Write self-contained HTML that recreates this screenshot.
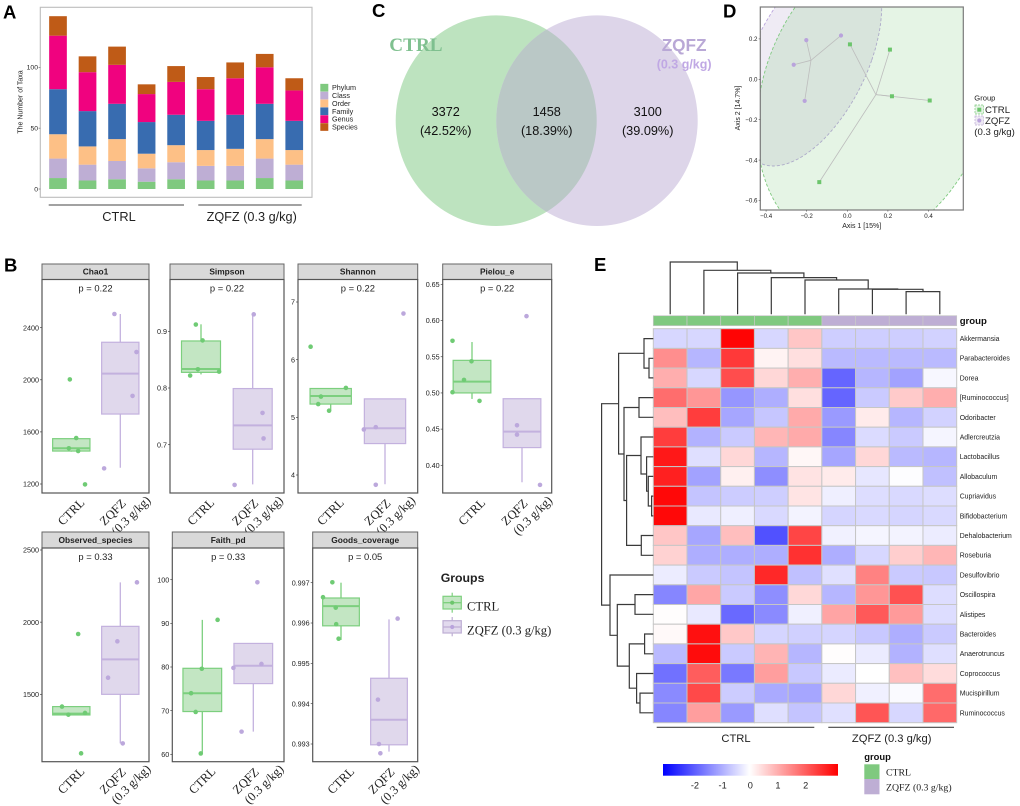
<!DOCTYPE html>
<html lang="en">
<head>
<meta charset="utf-8">
<title>Microbiome figure panels A-E</title>
<style>
html,body{margin:0;padding:0;background:#fff;}
svg{display:block;font-family:"Liberation Sans",Arial,sans-serif;}
.serif{font-family:"Liberation Serif","Times New Roman",serif;}
</style>
</head>
<body>
<svg id="fig" xmlns="http://www.w3.org/2000/svg" width="1020" height="806" viewBox="0 0 1020 806">
<defs>
<clipPath id="pcoa-clip"><rect x="760.3" y="7" width="203" height="203"/></clipPath>
<linearGradient id="cbar-grad" x1="0" x2="1" y1="0" y2="0">
<stop offset="0" stop-color="#0000ff"/><stop offset="0.495" stop-color="#ffffff"/><stop offset="1" stop-color="#ff0000"/>
</linearGradient>
</defs>
<rect x="0" y="0" width="1020" height="806" fill="#fff"/>

<text x="3" y="18.5" font-size="18.5" font-weight="bold">A</text>
<text x="4" y="271.5" font-size="18.5" font-weight="bold">B</text>
<text x="372" y="17" font-size="18.5" font-weight="bold">C</text>
<text x="723" y="17.5" font-size="18.5" font-weight="bold">D</text>
<text x="594" y="271" font-size="18.5" font-weight="bold">E</text>

<g id="panel-a">
<rect x="40.3" y="7.3" width="271.7" height="190" fill="#fff" stroke="#bdbdbd" stroke-width="1.1"/>
<text transform="translate(22.5,102) rotate(-90)" text-anchor="middle" font-size="7" fill="#222">The Number of Taxa</text>
<line x1="48.7" x2="184" y1="205" y2="205" stroke="#444" stroke-width="1.1"/>
<line x1="198.3" x2="301.7" y1="205" y2="205" stroke="#444" stroke-width="1.1"/>
<text x="119" y="221" text-anchor="middle" font-size="12.8" fill="#222">CTRL</text>
<text x="251.7" y="221" text-anchor="middle" font-size="12.7" fill="#222">ZQFZ (0.3 g/kg)</text>
</g>

<g id="panel-c">
<ellipse cx="496.2" cy="120.7" rx="100.5" ry="105.3" fill="#bde3bf"/>
<ellipse cx="597" cy="120.7" rx="100.7" ry="105.3" fill="#ddd5e9"/>
<clipPath id="venn-clip"><ellipse cx="496.2" cy="120.7" rx="100.5" ry="105.3"/></clipPath>
<ellipse cx="597" cy="120.7" rx="100.7" ry="105.3" fill="#bac8c6" clip-path="url(#venn-clip)"/>
<text class="serif" x="389.3" y="51" font-size="19.2" font-weight="bold" fill="#7fc08f">CTRL</text>
<text x="661.7" y="51" font-size="17.2" font-weight="bold" fill="#b9a8d6">ZQFZ</text>
<text x="656.7" y="68.3" font-size="12.5" font-weight="bold" fill="#c0a8e4">(0.3 g/kg)</text>
<g font-size="12.7" text-anchor="middle" fill="#111">
<text x="445.7" y="116">3372</text>
<text x="445.7" y="135">(42.52%)</text>
<text x="546.7" y="116">1458</text>
<text x="546.7" y="135">(18.39%)</text>
<text x="647.7" y="116">3100</text>
<text x="647.7" y="135">(39.09%)</text>
</g>
</g>

<g id="panel-d">
<g id="pcoa-clipped" clip-path="url(#pcoa-clip)"></g>
<rect x="760.3" y="7" width="203" height="203" fill="none" stroke="#7a7a7a" stroke-width="1.2"/>
<text x="861.7" y="228" text-anchor="middle" font-size="7" fill="#222">Axis 1 [15%]</text>
<text transform="translate(740,108) rotate(-90)" text-anchor="middle" font-size="7" fill="#222">Axis 2 [14.7%]</text>
<text x="974.3" y="100.7" font-size="7.6" fill="#222">Group</text>
<rect x="975" y="105" width="8.5" height="9" fill="#e5f4e5" stroke="#7fc97f" stroke-width="0.7" stroke-dasharray="2 1"/>
<rect x="977.3" y="107.7" width="4" height="4" fill="#6cc56c"/>
<rect x="975" y="116" width="8.5" height="9" fill="#eee9f4" stroke="#beaed4" stroke-width="0.7" stroke-dasharray="2 1"/>
<circle cx="979.3" cy="120.5" r="2.1" fill="#b9a3dc"/>
<text x="985" y="113" font-size="9.6" fill="#222">CTRL</text>
<text x="985" y="124" font-size="9.6" fill="#222">ZQFZ</text>
<text x="974.3" y="135" font-size="9.6" fill="#222">(0.3 g/kg)</text>
</g>

<g id="panel-b">
<text x="440.7" y="582" font-size="12.3" font-weight="bold" fill="#222">Groups</text>
<g>
<line x1="452.2" x2="452.2" y1="592.7" y2="612.7" stroke="#7fd07f" stroke-width="1.2"/>
<rect x="443" y="596.3" width="18.3" height="12.7" fill="#c3e6c3" stroke="#7fd07f" stroke-width="1.2"/>
<line x1="443" x2="461.3" y1="602.7" y2="602.7" stroke="#7fd07f" stroke-width="1.3"/>
<circle cx="452.2" cy="602.7" r="2.1" fill="#6cc56c"/>
</g>
<g>
<line x1="452.2" x2="452.2" y1="617" y2="636.3" stroke="#beaed4" stroke-width="1.2"/>
<rect x="443" y="620.7" width="18.3" height="12.3" fill="#e2daee" stroke="#beaed4" stroke-width="1.2"/>
<line x1="443" x2="461.3" y1="627" y2="627" stroke="#beaed4" stroke-width="1.3"/>
<circle cx="452.2" cy="627" r="2.1" fill="#b9a3dc"/>
</g>
<text class="serif" x="467" y="610.7" font-size="12.6" fill="#222">CTRL</text>
<text class="serif" x="467" y="634.7" font-size="12.6" fill="#222">ZQFZ (0.3 g/kg)</text>
</g>

<g id="panel-e">
<text x="959.7" y="324" font-size="9.6" font-weight="bold" fill="#111">group</text>
<line x1="656.7" x2="814.3" y1="727.3" y2="727.3" stroke="#444" stroke-width="1.1"/>
<line x1="828.3" x2="954" y1="727.3" y2="727.3" stroke="#444" stroke-width="1.1"/>
<text x="736" y="742" text-anchor="middle" font-size="11.2" fill="#222">CTRL</text>
<text x="891.7" y="742" text-anchor="middle" font-size="11.2" fill="#222">ZQFZ (0.3 g/kg)</text>
<rect x="663" y="764" width="175" height="11.7" fill="url(#cbar-grad)"/>
<text x="864.3" y="760" font-size="9.4" font-weight="bold" fill="#111">group</text>
<rect x="864.3" y="764.3" width="15.2" height="14.7" fill="#7fc97f"/>
<rect x="864.3" y="779" width="15.2" height="15.3" fill="#beaed4"/>
<text class="serif" x="886" y="775.5" font-size="9.8" fill="#222">CTRL</text>
<text class="serif" x="886" y="790.5" font-size="9.8" fill="#222">ZQFZ (0.3 g/kg)</text>
</g>
</svg>

<script>
/* ---------- Panel A data ---------- */
const taxaSamples = ['C1','C2','C3','C4','C5','Z1','Z2','Z3','Z4'];
const taxaLevels = ['Phylum','Class','Order','Family','Genus','Species'];
const taxaPhylum = [9,7,8,6,8,7,7,9,7];
const taxaClass = [16,13,15,11,14,12,12,16,13];
const taxaOrder = [20,15,18,12,14,13,14,16,12];
const taxaFamily = [37,29,29,26,25,24,28,29,24];
const taxaGenus = [44,32,32,23,27,26,30,30,25];
const taxaSpecies = [16,13,15,8,13,10,13,11,10];
const taxaTicks = [0,50,100];

/* ---------- Panel B data: [whisker low, q1, median, q3, whisker high] ---------- */
const chao1CtrlStats = [1448,1453,1474,1548,1548];
const chao1CtrlPoints = [2003,1553,1474,1453,1197];
const chao1CtrlJitter = [-0.03,0.1,-0.05,0.14,0.28];
const chao1ZqfzStats = [1325,1737,2047,2288,2505];
const chao1ZqfzPoints = [2505,2213,1876,1320];
const chao1ZqfzJitter = [-0.12,0.33,0.25,-0.33];
const chao1Ticks = [1200,1600,2000,2400];

const simpsonCtrlStats = [0.824,0.8276,0.8335,0.883,0.9124];
const simpsonCtrlPoints = [0.912,0.884,0.833,0.829,0.822];
const simpsonCtrlJitter = [-0.1,0.03,-0.06,0.35,-0.21];
const simpsonZqfzStats = [0.63,0.692,0.734,0.799,0.93];
const simpsonZqfzPoints = [0.93,0.756,0.711,0.629];
const simpsonZqfzJitter = [0.02,0.19,0.21,-0.35];
const simpsonTicks = [0.7,0.8,0.9];

const shannonCtrlStats = [5.115,5.23,5.37,5.5,5.5];
const shannonCtrlPoints = [6.225,5.51,5.36,5.23,5.115];
const shannonCtrlJitter = [-0.37,0.28,-0.18,-0.23,-0.03];
const shannonZqfzStats = [3.84,4.545,4.81,5.32,5.32];
const shannonZqfzPoints = [6.8,4.83,4.79,3.83];
const shannonZqfzJitter = [0.34,-0.17,-0.39,-0.17];
const shannonTicks = [4,5,6,7];

const pielouCtrlStats = [0.4917,0.5,0.5156,0.545,0.5703];
const pielouCtrlPoints = [0.572,0.5437,0.518,0.501,0.489];
const pielouCtrlJitter = [-0.39,-0.01,-0.16,-0.39,0.15];
const pielouZqfzStats = [0.3766,0.4245,0.4466,0.492,0.492];
const pielouZqfzPoints = [0.606,0.4553,0.4424,0.373];
const pielouZqfzJitter = [0.09,-0.1,-0.1,0.36];
const pielouTicks = [0.4,0.45,0.5,0.55,0.6,0.65];

const observedCtrlStats = [1357,1357,1366,1415,1415];
const observedCtrlPoints = [1918,1415,1371,1359,1091];
const observedCtrlJitter = [0.14,-0.19,0.28,-0.06,0.2];
const observedZqfzStats = [1160,1500,1742,1971,2276];
const observedZqfzPoints = [2276,1867,1615,1160];
const observedZqfzJitter = [0.34,-0.06,-0.25,0.05];
const observedTicks = [1500,2000,2500];

const faithCtrlStats = [60.2,69.8,74,79.7,90.8];
const faithCtrlPoints = [90.8,79.6,74,69.7,60.2];
const faithCtrlJitter = [0.3,-0.01,-0.22,-0.13,-0.03];
const faithZqfzStats = [65.2,76.2,80.3,85.4,85.4];
const faithZqfzPoints = [99.4,80.7,79.8,65.2];
const faithZqfzJitter = [0.08,0.16,-0.39,-0.23];
const faithTicks = [60,70,80,90,100];

const goodsCtrlStats = [0.99558,0.99593,0.99642,0.99662,0.997];
const goodsCtrlPoints = [0.99701,0.99664,0.99638,0.99597,0.99561];
const goodsCtrlJitter = [-0.18,-0.375,-0.11,-0.1,-0.05];
const goodsZqfzStats = [0.99281,0.99298,0.9936,0.99463,0.99609];
const goodsZqfzPoints = [0.99611,0.9941,0.993,0.99277];
const goodsZqfzJitter = [0.18,-0.23,-0.21,-0.18];
const goodsTicks = [0.993,0.994,0.995,0.996,0.997];

/* ---------- Panel D data ---------- */
const ctrlAxis1 = [0.013,0.21,0.22,0.406,-0.138];
const ctrlAxis2 = [0.173,0.147,-0.084,-0.105,-0.509];
const zqfzAxis1 = [-0.031,-0.202,-0.264,-0.21];
const zqfzAxis2 = [0.217,0.194,0.072,-0.107];
const ctrlCentroid = [0.141,-0.076];
const zqfzCentroid = [-0.179,0.094];
const pcoaXTicks = [-0.4,-0.2,0,0.2,0.4];
const pcoaYTicks = [0.2,0,-0.2,-0.4,-0.6];

/* ---------- Panel E data ---------- */
const heatRowNames = ['Akkermansia','Parabacteroides','Dorea','[Ruminococcus]','Odoribacter','Adlercreutzia','Lactobacillus','Allobaculum','Cupriavidus','Bifidobacterium','Dehalobacterium','Roseburia','Desulfovibrio','Oscillospira','Alistipes','Bacteroides','Anaerotruncus','Coprococcus','Mucispirillum','Ruminococcus'];
const heatColumnGroups = ['CTRL','CTRL','CTRL','CTRL','CTRL','ZQFZ','ZQFZ','ZQFZ','ZQFZ'];
const heatValues = [
[-0.5,-0.5,3.1,-0.5,0.7,-0.6,-0.6,-0.6,-0.55],
[1.4,-0.9,2.45,0.15,0.4,-0.85,-0.85,-0.85,-0.85],
[1.0,-0.5,2.2,0.5,1.0,-1.9,-0.9,-1.15,-0.1],
[1.8,1.3,-1.3,-1.0,0.4,-1.9,-0.65,0.65,1.0],
[0.8,2.4,-1.1,-0.7,1.05,-1.25,0.25,-0.9,-0.55],
[2.4,-0.95,-0.65,0.9,1.05,-1.5,-0.45,-0.65,-0.12],
[2.85,-0.4,0.5,-0.9,0.1,-1.1,0.5,-0.85,-0.9],
[2.75,-1.15,0.18,-1.4,0.35,0.25,-0.3,-0.03,-0.78],
[3.05,-0.73,-0.63,-0.6,0.33,-0.2,-0.42,-0.47,-0.42],
[3.05,-0.27,-0.2,-0.47,-0.15,-0.52,-0.47,-0.52,-0.47],
[0.7,-1.1,0.8,-2.15,2.3,-0.17,-0.12,-0.15,-0.24],
[0.55,-1.0,-1.0,-1.0,2.55,-1.0,-0.5,0.6,0.9],
[-0.24,-0.65,-0.73,2.65,-0.78,-0.38,1.55,-0.65,-0.68],
[-1.5,1.1,-0.65,-1.4,0.48,-0.9,1.3,2.15,-0.42],
[0.02,-0.27,-1.85,-1.45,-0.18,1.13,2.05,1.25,-0.42],
[0.08,2.95,0.68,-0.52,-0.58,-0.52,-0.68,-1.0,-0.65],
[-0.85,3.0,-0.65,0.93,-0.9,0.03,-0.25,-0.95,-0.4],
[-1.75,2.0,-1.65,1.2,-0.68,-0.25,0,0.78,0.43],
[-1.45,2.25,-0.63,-1.05,-1.1,0.5,-0.18,-0.06,1.8],
[-1.5,1.2,-1.25,-0.4,-0.73,-0.38,2.1,-0.5,1.85]
];
const colorbarTicks = [-2,-1,0,1,2];
/* merge trees: [merge height, child, child]; numbers are leaf indices */
const columnTree = [157,0,[132,1,[124,2,[110,3,[103,4,[76,5,[75,6,[68,7,8]]]]]]]];
const rowTree = [155,
  [104,[28,0,[13,1,2]],[88,[43,3,4],[80,[37,5,[20,6,[15,7,[5,8,9]]]],[36,10,11]]]],
  [130,12,[108,[55,13,14],[72,[26,15,16],[50,17,[40,18,19]]]]]
];

/* ---------- Drawing helpers ---------- */
const SVGNS = 'http://www.w3.org/2000/svg';
function mk(parent, tag, props, text) {
  const el = document.createElementNS(SVGNS, tag);
  for (const k in props) el.setAttribute(k, props[k]);
  if (text !== undefined) el.textContent = text;
  parent.appendChild(el);
  return el;
}
const GREEN = '#7fc97f', PURPLE = '#beaed4';

/* ---------- Panel A ---------- */
(function () {
  const g = document.getElementById('panel-a');
  const series = [taxaPhylum, taxaClass, taxaOrder, taxaFamily, taxaGenus, taxaSpecies];
  const colors = ['#7fc97f','#beaed4','#fdc086','#386cb0','#f0027f','#bf5b17'];
  const x = i => 58 + 29.53 * i;
  const y = v => 189 - 1.217 * v;
  taxaSamples.forEach((s, i) => {
    let sum = 0;
    series.forEach((arr, k) => {
      const r = mk(g, 'rect', {x: x(i) - 8.85, y: y(sum + arr[i]), width: 17.7, height: y(sum) - y(sum + arr[i]), fill: colors[k]});
      
      
      sum += arr[i];
    });
  });
  taxaTicks.forEach(t => {
    const tick = mk(g, 'line', {x1: 38.6, x2: 40.3, y1: y(t), y2: y(t), stroke: '#555', 'stroke-width': 0.6});
    
    
    const lab = mk(g, 'text', {x: 38, y: y(t) + 2.4, 'text-anchor': 'end', 'font-size': 6.8, fill: '#222'}, String(t));
    
    
  });
  taxaLevels.forEach((name, k) => {
    const cy = 87.7 + 7.86 * k;
    const sw = mk(g, 'rect', {x: 320.3, y: cy - 3.85, width: 8, height: 7.7, fill: colors[k]});
    
    
    const t = mk(g, 'text', {x: 332, y: cy + 2.5, 'font-size': 7.2, fill: '#222'}, name);
    
    
  });
})();

/* ---------- Panel B ---------- */
(function () {
  const g = document.getElementById('panel-b');
  const panels = [
    {title:'Chao1', p:'p = 0.22', x0:42, x1:149, top:264, strip:279.5, bottom:493, c:[71.3,120.3], bw:37.3, a:[2400,327.67,1200,484], ticks:chao1Ticks, dec:0,
     s:[chao1CtrlStats,chao1ZqfzStats], pts:[chao1CtrlPoints,chao1ZqfzPoints], jit:[chao1CtrlJitter,chao1ZqfzJitter]},
    {title:'Simpson', p:'p = 0.22', x0:170, x1:284, top:264, strip:279.5, bottom:493, c:[201,252.7], bw:39, a:[0.9,331.33,0.7,444.67], ticks:simpsonTicks, dec:1,
     s:[simpsonCtrlStats,simpsonZqfzStats], pts:[simpsonCtrlPoints,simpsonZqfzPoints], jit:[simpsonCtrlJitter,simpsonZqfzJitter]},
    {title:'Shannon', p:'p = 0.22', x0:298, x1:417.7, top:264, strip:279.5, bottom:493, c:[330.7,385], bw:41.3, a:[7,302,4,475], ticks:shannonTicks, dec:0,
     s:[shannonCtrlStats,shannonZqfzStats], pts:[shannonCtrlPoints,shannonZqfzPoints], jit:[shannonCtrlJitter,shannonZqfzJitter]},
    {title:'Pielou_e', p:'p = 0.22', x0:442.7, x1:551.7, top:264, strip:279.5, bottom:493, c:[472,522], bw:37.7, a:[0.65,284.33,0.4,465.33], ticks:pielouTicks, dec:2,
     s:[pielouCtrlStats,pielouZqfzStats], pts:[pielouCtrlPoints,pielouZqfzPoints], jit:[pielouCtrlJitter,pielouZqfzJitter]},
    {title:'Observed_species', p:'p = 0.33', x0:42, x1:149, top:532, strip:548, bottom:761.7, c:[71.3,120.3], bw:37.3, a:[2500,550,1500,694.33], ticks:observedTicks, dec:0,
     s:[observedCtrlStats,observedZqfzStats], pts:[observedCtrlPoints,observedZqfzPoints], jit:[observedCtrlJitter,observedZqfzJitter]},
    {title:'Faith_pd', p:'p = 0.33', x0:172.3, x1:284, top:532, strip:548, bottom:761.7, c:[202.3,253.3], bw:38.7, a:[100,579.67,60,754.33], ticks:faithTicks, dec:0,
     s:[faithCtrlStats,faithZqfzStats], pts:[faithCtrlPoints,faithZqfzPoints], jit:[faithCtrlJitter,faithZqfzJitter]},
    {title:'Goods_coverage', p:'p = 0.05', x0:312.7, x1:417.7, top:532, strip:548, bottom:761.7, c:[341,389], bw:36.7, a:[0.997,582.67,0.993,744], ticks:goodsTicks, dec:3,
     s:[goodsCtrlStats,goodsZqfzStats], pts:[goodsCtrlPoints,goodsZqfzPoints], jit:[goodsCtrlJitter,goodsZqfzJitter]}
  ];
  const strokes = ['#7ccf7e', '#c3b1de'];
  const fills = ['#c3e6c3', '#e0d8ec'];
  const dots = ['#6fcb74', '#bca8dc'];
  panels.forEach(P => {
    const pg = mk(g, 'g', {});
    
    
    const y = v => P.a[1] + (v - P.a[0]) * (P.a[3] - P.a[1]) / (P.a[2] - P.a[0]);
    const strip = mk(pg, 'rect', {x: P.x0, y: P.top, width: P.x1 - P.x0, height: P.strip - P.top, fill: '#d9d9d9', stroke: '#666', 'stroke-width': 1});
    
    
    const frame = mk(pg, 'rect', {x: P.x0, y: P.strip, width: P.x1 - P.x0, height: P.bottom - P.strip, fill: '#fff', stroke: '#555', 'stroke-width': 1.2});
    
    
    const title = mk(pg, 'text', {x: (P.x0 + P.x1) / 2, y: P.strip - 4.8, 'text-anchor': 'middle', 'font-size': 8.4, 'font-weight': 'bold', fill: '#222'}, P.title);
    
    
    const pt = mk(pg, 'text', {x: (P.x0 + P.x1) / 2, y: P.strip + 12.2, 'text-anchor': 'middle', 'font-size': 9.4, fill: '#222'}, P.p);
    
    
    P.ticks.forEach(t => {
      const tk = mk(pg, 'line', {x1: P.x0 - 2, x2: P.x0, y1: y(t), y2: y(t), stroke: '#444', 'stroke-width': 0.7});
      
      
      const lb = mk(pg, 'text', {x: P.x0 - 3, y: y(t) + 2.6, 'text-anchor': 'end', 'font-size': 7.2, fill: '#222'}, t.toFixed(P.dec));
      
      
    });
    [0, 1].forEach(k => {
      const st = P.s[k], cx = P.c[k], hw = P.bw / 2;
      const whisk = mk(pg, 'line', {x1: cx, x2: cx, y1: y(st[0]), y2: y(st[4]), stroke: strokes[k], 'stroke-width': 1.3});
      
      
      const box = mk(pg, 'rect', {x: cx - hw, y: y(st[3]), width: P.bw, height: y(st[1]) - y(st[3]), fill: fills[k], stroke: strokes[k], 'stroke-width': 1.2});
      
      
      const med = mk(pg, 'line', {x1: cx - hw, x2: cx + hw, y1: y(st[2]), y2: y(st[2]), stroke: strokes[k], 'stroke-width': 2});
      
      
      P.pts[k].forEach((v, i) => {
        const d = mk(pg, 'circle', {cx: cx + P.jit[k][i] * (P.c[1] - P.c[0]), cy: y(v), r: 2.3, fill: dots[k]});
        
        
      });
    });
    const l1 = mk(pg, 'text', {transform: 'translate(' + (P.c[0] + 14) + ',' + (P.bottom + 10.5) + ') rotate(-45)', 'text-anchor': 'end', 'font-size': 12.5, fill: '#222', class: 'serif'}, 'CTRL');
    
    
    const l2 = mk(pg, 'text', {transform: 'translate(' + (P.c[1] + 6.4) + ',' + (P.bottom + 11) + ') rotate(-45)', 'text-anchor': 'end', 'font-size': 12.5, fill: '#222', class: 'serif'}, 'ZQFZ');
    
    
    const l3 = mk(pg, 'text', {transform: 'translate(' + (P.c[1] + 31) + ',' + (P.bottom + 8) + ') rotate(-45)', 'text-anchor': 'end', 'font-size': 12.5, fill: '#222', class: 'serif'}, '(0.3 g/kg)');
    
    
  });
})();

/* ---------- Panel D ---------- */
(function () {
  const g = document.getElementById('panel-d');
  const c = document.getElementById('pcoa-clipped');
  const x = v => 847.3 + 203 * v;
  const y = v => 79.3 - 202 * v;
  function ellipsePath(cx, cy, W, H, shear) {
    let d = '';
    for (let a = 0; a <= 120; a++) {
      const t = a / 120 * 2 * Math.PI;
      const px = 700 + (cx + W * Math.cos(t) + shear * Math.sin(t)) / 3;
      const py = (cy + H * Math.sin(t)) / 3;
      d += (a ? 'L' : 'M') + px.toFixed(1) + ' ' + py.toFixed(1);
    }
    return d + 'Z';
  }
  const purpleE = mk(c, 'path', {d: ellipsePath(330, 181, 185, 317, -110), fill: 'rgba(190,174,212,0.25)', stroke: '#b9a3dc', 'stroke-width': 0.9, 'stroke-dasharray': '3 2'});
  
  
  const greenE = mk(c, 'path', {d: ellipsePath(528, 284, 349, 460, -77), fill: 'rgba(127,201,127,0.2)', stroke: '#7fc97f', 'stroke-width': 0.9, 'stroke-dasharray': '3 2'});
  
  
  ctrlAxis1.forEach((v, i) => {
    const s = mk(c, 'line', {x1: x(ctrlCentroid[0]), y1: y(ctrlCentroid[1]), x2: x(v), y2: y(ctrlAxis2[i]), stroke: '#bdbdbd', 'stroke-width': 0.8});
    
    
  });
  zqfzAxis1.forEach((v, i) => {
    const s = mk(c, 'line', {x1: x(zqfzCentroid[0]), y1: y(zqfzCentroid[1]), x2: x(v), y2: y(zqfzAxis2[i]), stroke: '#bdbdbd', 'stroke-width': 0.8});
    
    
  });
  ctrlAxis1.forEach((v, i) => {
    const m = mk(c, 'rect', {x: x(v) - 2, y: y(ctrlAxis2[i]) - 2, width: 4, height: 4, fill: '#6cc56c'});
    
    
  });
  zqfzAxis1.forEach((v, i) => {
    const m = mk(c, 'circle', {cx: x(v), cy: y(zqfzAxis2[i]), r: 2.1, fill: '#b9a3dc'});
    
    
  });
  pcoaXTicks.forEach(t => {
    const k = mk(g, 'line', {x1: x(t), x2: x(t), y1: 210, y2: 211.6, stroke: '#555', 'stroke-width': 0.6});
    
    
    const l = mk(g, 'text', {x: x(t), y: 218, 'text-anchor': 'middle', 'font-size': 6.2, fill: '#222'}, t === 0 ? '0.0' : t.toFixed(1).replace('-', '\u2212'));
    
    
  });
  pcoaYTicks.forEach(t => {
    const k = mk(g, 'line', {x1: 758.7, x2: 760.3, y1: y(t), y2: y(t), stroke: '#555', 'stroke-width': 0.6});
    
    
    const l = mk(g, 'text', {x: 757.5, y: y(t) + 2.2, 'text-anchor': 'end', 'font-size': 6.2, fill: '#222'}, t === 0 ? '0.0' : t.toFixed(1).replace('-', '\u2212'));
    
    
  });
})();

/* ---------- Panel E ---------- */
(function () {
  const g = document.getElementById('panel-e');
  const cx0 = 653.3, cw = 33.71, ry0 = 328.7, rh = 19.7;
  const heatColor = v => {
    const t = Math.min(1, Math.abs(v) / 3.15);
    const o = Math.round(255 * (1 - t));
    return v >= 0 ? 'rgb(255,' + o + ',' + o + ')' : 'rgb(' + o + ',' + o + ',255)';
  };
  heatColumnGroups.forEach((grp, j) => {
    const a = mk(g, 'rect', {x: cx0 + j * cw, y: 315.7, width: cw, height: 10, fill: grp === 'CTRL' ? GREEN : PURPLE, stroke: '#c8c8c8', 'stroke-width': 0.7});
    
    
  });
  heatValues.forEach((row, i) => {
    row.forEach((v, j) => {
      const r = mk(g, 'rect', {x: cx0 + j * cw, y: ry0 + i * rh, width: cw, height: rh, fill: heatColor(v), stroke: '#c6c6c6', 'stroke-width': 1});
      
      
    });
    const t = mk(g, 'text', {x: 959.7, y: ry0 + (i + 0.5) * rh + 2.4, 'font-size': 6.9, fill: '#222'}, heatRowNames[i]);
    
    
  });
  function drawTree(node, leafPos, toXY) {
    if (typeof node === 'number') return {pos: leafPos(node), h: 0};
    const a = drawTree(node[1], leafPos, toXY);
    const b = drawTree(node[2], leafPos, toXY);
    const h = node[0];
    const pts = [toXY(a.pos, a.h), toXY(a.pos, h), toXY(b.pos, h), toXY(b.pos, b.h)];
    const pl = mk(g, 'polyline', {points: pts.map(p => p.join(',')).join(' '), fill: 'none', stroke: '#3a3a3a', 'stroke-width': 1.2});
    
    
    return {pos: (a.pos + b.pos) / 2, h: h};
  }
  drawTree(columnTree, j => cx0 + (j + 0.5) * cw, (p, h) => [p.toFixed(1), (314.3 - h / 3).toFixed(1)]);
  drawTree(rowTree, i => ry0 + (i + 0.5) * rh, (p, h) => [(653.3 - h / 3).toFixed(1), p.toFixed(1)]);
  const cbX = v => 750.3 + 27.67 * v;
  colorbarTicks.forEach(t => {
    const l = mk(g, 'text', {x: cbX(t), y: 788.5, 'text-anchor': 'middle', 'font-size': 9.2, fill: '#222'}, String(t));
    
    
  });
})();
</script>
</body>
</html>
